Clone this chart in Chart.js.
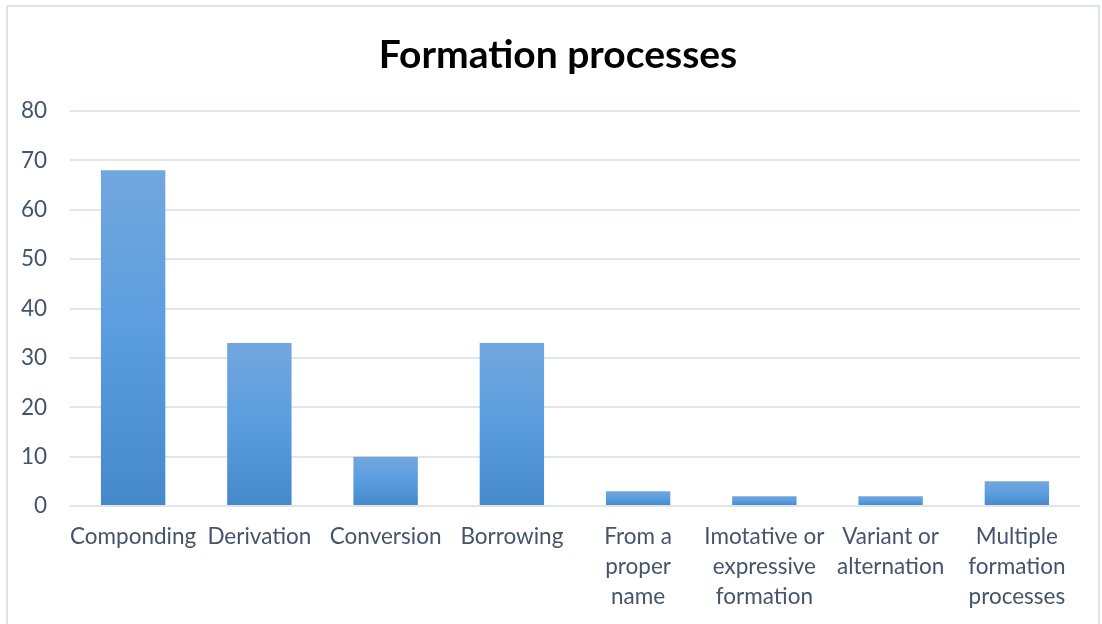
<!DOCTYPE html>
<html>
<head>
<meta charset="utf-8">
<script src="https://cdn.jsdelivr.net/npm/chart.js@4"></script>
<style>
  html, body { margin: 0; padding: 0; background: #fff; overflow: hidden; }
  #frame {
    position: absolute; left: 6px; top: 5px; width: 1094px; height: 640px;
    border: 2px solid #dfe2e6; box-sizing: border-box;
  }
  #wrap { position: absolute; left: 0; top: 0; width: 1102px; height: 624px; }
</style>
</head>
<body>
<div id="frame"></div>
<div id="wrap"><canvas id="result" width="1102" height="624"></canvas></div>
<script>
// categories (wrapped onto several lines like the axis shows them)
const categories = [
    'Componding',
    'Derivation',
    'Conversion',
    'Borrowing',
    ['From a', 'proper', 'name'],
    ['Imotative or', 'expressive', 'formation'],
    ['Variant or', 'alternation'],
    ['Multiple', 'formation', 'processes']
];
const counts = [68, 33, 10, 33, 3, 2, 2, 5];
const yTicks = [0, 10, 20, 30, 40, 50, 60, 70, 80];
const chartTitle = 'Formation processes';

const labelColor = '#44546a';
const fontFamily = "Lato, 'Open Sans', sans-serif";

// each bar gets its own light-to-dark vertical gradient
function barFill(ctx) {
    const chart = ctx.chart;
    if (!chart.chartArea || ctx.raw === undefined) return '#5b9bd5';
    const y = chart.scales.y;
    const top = y.getPixelForValue(ctx.raw);
    const base = y.getPixelForValue(0);
    const g = chart.ctx.createLinearGradient(0, top, 0, base);
    g.addColorStop(0, '#72a7dd');
    g.addColorStop(0.5, '#5a9ddf');
    g.addColorStop(1, '#4589cb');
    return g;
}

// title is centred on the whole frame, not just the plot area
const frameTitle = {
    id: 'frameTitle',
    afterDraw(chart) {
        const c = chart.ctx;
        c.save();
        c.font = 'bold 39px ' + fontFamily;
        c.fillStyle = '#000';
        c.textAlign = 'center';
        c.textBaseline = 'middle';
        c.fillText(chartTitle, 558, 55);
        c.restore();
    }
};

const ctx = document.getElementById('result').getContext('2d');
new Chart(ctx, {
    type: 'bar',
    data: {
        labels: categories,
        datasets: [{
            data: counts,
            backgroundColor: barFill,
            borderWidth: 0,
            barPercentage: 0.51,
            categoryPercentage: 1
        }]
    },
    options: {
        responsive: false,
        animation: false,
        layout: { padding: { left: 0, right: 22, top: 111, bottom: 0 } },
        plugins: {
            legend: { display: false },
            tooltip: { enabled: false },
            title: { display: false }
        },
        scales: {
            x: {
                grid: { display: false, drawTicks: false },
                border: { display: false },
                ticks: {
                    color: labelColor,
                    font: { family: fontFamily, size: 22.5, lineHeight: 1.33 },
                    padding: 16,
                    maxRotation: 0,
                    autoSkip: false
                },
                afterFit: scale => { scale.height = 118; }
            },
            y: {
                min: 0,
                max: 80,
                afterBuildTicks: scale => { scale.ticks = yTicks.map(v => ({ value: v })); },
                grid: { color: '#e1e4e8', lineWidth: 2, drawTicks: false },
                border: { display: false },
                ticks: {
                    color: labelColor,
                    font: { family: fontFamily, size: 22.5 },
                    padding: 23
                },
                afterFit: scale => { scale.width = 70; }
            }
        }
    },
    plugins: [frameTitle]
});
</script>
</body>
</html>
